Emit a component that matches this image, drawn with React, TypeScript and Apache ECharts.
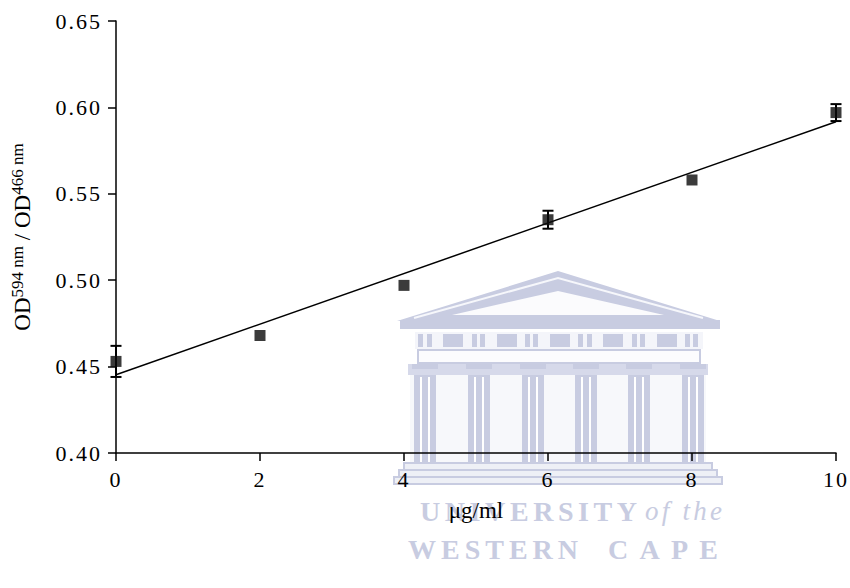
import React, { useEffect, useRef } from 'react';
import * as echarts from 'echarts';

// ---- data ----
const doses = [0, 2, 4, 6, 8, 10];
const ratioMeans = [0.453, 0.468, 0.497, 0.535, 0.558, 0.597];
const ratioErrors = [0.009, 0, 0, 0.0052, 0, 0.0049];
const fitX = [0, 10];
const fitY = [0.4453, 0.5917];
const yTicks = [0.4, 0.45, 0.5, 0.55, 0.6, 0.65];
const xTicks = [0, 2, 4, 6, 8, 10];

const F = 'Liberation Serif';
const WM = '#c8cce1';
const WL = '#eef0f6';

function building(): any[] {
  const els: any[] = [];
  // pediment
  els.push({ type: 'polygon', shape: { points: [[397, 321], [558, 271], [720, 321]] }, style: { fill: WM } });
  els.push({ type: 'polyline', shape: { points: [[414, 318], [558, 278], [703, 318]] }, style: { stroke: '#f6f7fb', lineWidth: 2, fill: null } });
  els.push({ type: 'polygon', shape: { points: [[452, 315], [558, 291], [664, 315]] }, style: { fill: '#fbfbfd' } });
  // cornice
  els.push({ type: 'rect', shape: { x: 400, y: 320, width: 320, height: 9 }, style: { fill: WM } });
  // frieze
  els.push({ type: 'rect', shape: { x: 415, y: 332, width: 288, height: 17 }, style: { fill: '#f4f5fa' } });
  const blocks = [[418, 423], [427, 432], [443, 463], [472, 477], [480, 485], [497, 517], [525, 530], [533, 538], [550, 570], [578, 583], [587, 592], [603, 623], [632, 637], [640, 645], [657, 677], [685, 690], [693, 698]];
  blocks.forEach(([a, b]) => els.push({ type: 'rect', shape: { x: a, y: 334, width: b - a, height: 13 }, style: { fill: WM } }));
  // architrave
  els.push({ type: 'rect', shape: { x: 418, y: 350, width: 282, height: 13 }, style: { fill: '#fcfcfe', stroke: WM, lineWidth: 2 } });
  // capitals band
  els.push({ type: 'rect', shape: { x: 408, y: 364, width: 300, height: 11 }, style: { fill: '#d6d9ea' } });
  const cols = [425, 479, 533, 586, 639, 693];
  cols.forEach((c) => els.push({ type: 'rect', shape: { x: c - 13, y: 364, width: 26, height: 5 }, style: { fill: WM } }));
  // between columns
  els.push({ type: 'rect', shape: { x: 410, y: 375, width: 296, height: 88 }, style: { fill: '#f7f8fb' } });
  cols.forEach((c) => {
    els.push({ type: 'rect', shape: { x: c - 11, y: 375, width: 22, height: 88 }, style: { fill: WM } });
    els.push({ type: 'rect', shape: { x: c - 5, y: 377, width: 2, height: 86 }, style: { fill: '#ffffff' } });
    els.push({ type: 'rect', shape: { x: c + 3, y: 377, width: 2, height: 86 }, style: { fill: '#ffffff' } });
  });
  // steps
  els.push({ type: 'rect', shape: { x: 404, y: 463, width: 308, height: 7 }, style: { fill: WL, stroke: WM, lineWidth: 2 } });
  els.push({ type: 'rect', shape: { x: 399, y: 470, width: 318, height: 7 }, style: { fill: WL, stroke: WM, lineWidth: 2 } });
  els.push({ type: 'rect', shape: { x: 394, y: 477, width: 328, height: 7 }, style: { fill: WL, stroke: WM, lineWidth: 2 } });
  return els;
}

const wmWords = [
  { text: 'UNIVERSITY', x0: 420, x1: 637, y: 511, size: 28, weight: 'bold', style: 'normal' },
  { text: 'of the', x0: 645, x1: 722, y: 511, size: 27, weight: 'normal', style: 'italic' },
  { text: 'WESTERN', x0: 408, x1: 578, y: 549, size: 28, weight: 'bold', style: 'normal' },
  { text: 'CAPE', x0: 608, x1: 718, y: 549, size: 28, weight: 'bold', style: 'normal' },
];

const tickLabelSpacing = 2;

function measure(text: string, font: string): number {
  const c = document.createElement('canvas').getContext('2d');
  if (!c) return text.length * 10;
  c.font = font;
  return c.measureText(text).width;
}

export default function App() {
  const ref = useRef<HTMLDivElement>(null);
  useEffect(() => {
    document.body.style.margin = '0';
    if (!ref.current) return;
    const chart = echarts.init(ref.current, null, { renderer: 'svg' });

    const wmText = wmWords.map((w) => ({
      type: 'text',
      x: w.x0,
      y: w.y,
      z: -9,
      style: {
        text: w.text,
        fontFamily: F,
        fontSize: w.size,
        fontWeight: w.weight,
        fontStyle: w.style,
        fill: WM,
        align: 'left',
        verticalAlign: 'middle',
      },
    }));

    const yLabel = (v: number) => v.toFixed(2);

    const option: any = {
      animation: false,
      backgroundColor: '#ffffff',
      textStyle: { fontFamily: F },
      graphic: [
        { type: 'group', z: -10, children: building() },
        ...wmText,
      ],
      grid: { left: 116, right: 13, top: 21, bottom: 135, containLabel: false },
      xAxis: {
        type: 'value',
        min: xTicks[0],
        max: xTicks[xTicks.length - 1],
        interval: 2,
        axisLine: { show: true, lineStyle: { color: '#000', width: 1.5 } },
        axisTick: { show: true, length: 8, lineStyle: { color: '#000', width: 1.5 } },
        splitLine: { show: false },
        axisLabel: { color: '#000', fontFamily: F, fontSize: 22, margin: 15 },
        name: 'μg/ml',
        nameLocation: 'middle',
        nameGap: 46,
        nameTextStyle: { color: '#000', fontFamily: F, fontSize: 23 },
      },
      yAxis: {
        type: 'value',
        min: yTicks[0],
        max: yTicks[yTicks.length - 1],
        interval: 0.05,
        axisLine: { show: true, lineStyle: { color: '#000', width: 1.5 } },
        axisTick: { show: true, length: 8, lineStyle: { color: '#000', width: 1.5 } },
        splitLine: { show: false },
        axisLabel: {
          color: '#000', fontFamily: F, fontSize: 22, margin: 14,
          formatter: yLabel,
        },
        name: '{m|OD}{s|594 nm}{m| / OD}{s|466 nm}',
        nameLocation: 'middle',
        nameRotate: 90,
        nameGap: 80,
        nameTextStyle: {
          rich: {
            m: { fontFamily: F, fontSize: 23, color: '#000', lineHeight: 27 },
            s: { fontFamily: F, fontSize: 17, color: '#000', lineHeight: 27, verticalAlign: 'top' },
          },
        },
      },
      series: [
        {
          type: 'line',
          data: fitX.map((x, i) => [x, fitY[i]]),
          showSymbol: false,
          symbol: 'none',
          lineStyle: { color: '#000', width: 1.5 },
          z: 3,
        },
        {
          type: 'custom',
          data: doses.map((d, i) => [d, ratioMeans[i], ratioErrors[i]]),
          z: 4,
          clip: false,
          renderItem: (params: any, api: any) => {
            const x = api.value(0);
            const y = api.value(1);
            const e = api.value(2);
            if (!e) return { type: 'group', children: [] };
            const top = api.coord([x, y + e]);
            const bot = api.coord([x, y - e]);
            const hw = 5.5;
            const st = { stroke: '#000', lineWidth: 2 };
            return {
              type: 'group',
              children: [
                { type: 'line', shape: { x1: top[0], y1: top[1], x2: bot[0], y2: bot[1] }, style: st },
                { type: 'line', shape: { x1: top[0] - hw, y1: top[1], x2: top[0] + hw, y2: top[1] }, style: st },
                { type: 'line', shape: { x1: bot[0] - hw, y1: bot[1], x2: bot[0] + hw, y2: bot[1] }, style: st },
              ],
            };
          },
        },
        {
          type: 'scatter',
          data: doses.map((d, i) => [d, ratioMeans[i]]),
          symbol: 'rect',
          symbolSize: 11,
          itemStyle: { color: '#0a0a0a' },
          clip: false,
          z: 5,
        },
      ],
    };
    chart.setOption(option);

    const yStrs = yTicks.map(yLabel);
    const xStrs = xTicks.map(String);
    const applySpacing = () => {
      const texts = ref.current ? ref.current.querySelectorAll('text') : [];
      texts.forEach((t: any) => {
        const content = t.textContent;
        const w = wmWords.find((q) => q.text === content);
        if (w) {
          const font = `${w.style} ${w.weight} ${w.size}px "${F}"`;
          const nat = measure(w.text, font);
          const sp = (w.x1 - w.x0 - nat) / Math.max(1, w.text.length - 1);
          t.setAttribute('letter-spacing', sp.toFixed(2));
        } else if (yStrs.includes(content) || xStrs.includes(content)) {
          t.setAttribute('letter-spacing', String(tickLabelSpacing));
        }
      });
    };
    applySpacing();
    chart.on('finished', applySpacing);
    const tm = setTimeout(applySpacing, 50);

    return () => {
      clearTimeout(tm);
      chart.dispose();
    };
  }, []);
  return <div ref={ref} style={{ width: 850, height: 588 }} />;
}
